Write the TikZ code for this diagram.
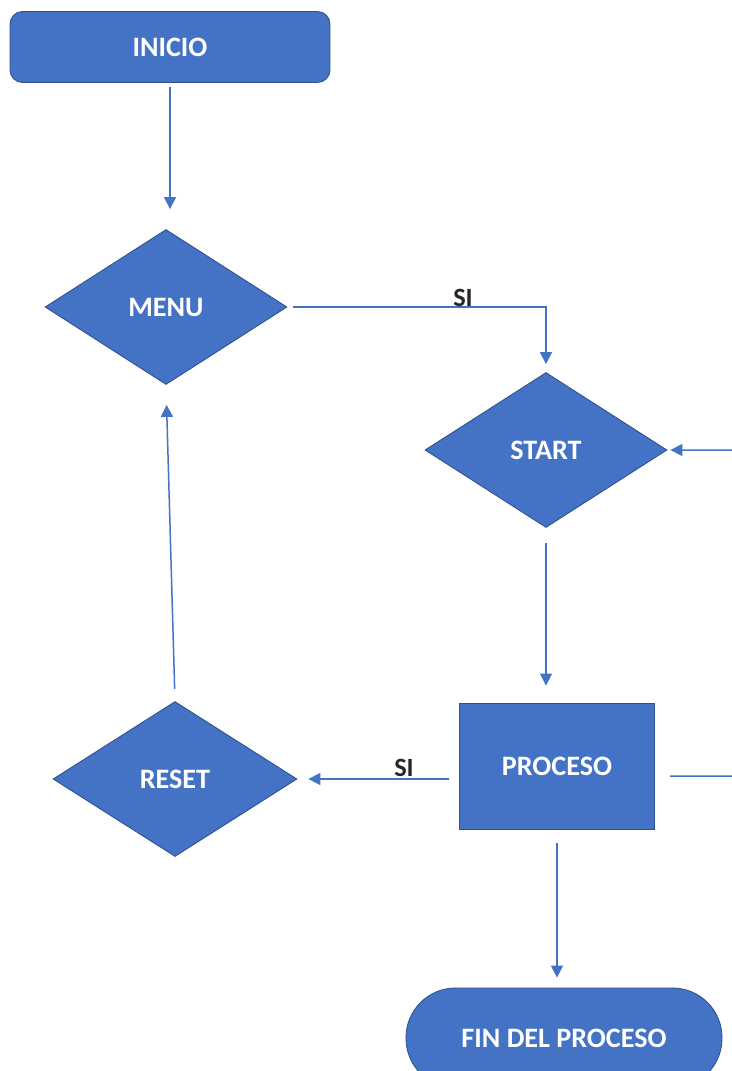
\documentclass[tikz,border=0pt]{standalone}
\usepackage{fontspec}
\setmainfont{Carlito}
\usetikzlibrary{shapes.geometric,arrows.meta}
\definecolor{boxblue}{HTML}{4472C4}
\definecolor{edgeblue}{HTML}{2F528F}
\begin{document}
\begin{tikzpicture}[x=0.02cm,y=-0.02cm,
  box/.style={draw=edgeblue,fill=boxblue,line width=0.5pt,text=white,font=\fontsize{16}{19}\selectfont\bfseries},
  decision/.style={box,diamond,inner sep=0pt,minimum width=4.84cm,minimum height=3.1cm},
  flow/.style={draw=boxblue,line width=0.85pt,-{Triangle[length=0.24cm,width=0.24cm]}},
  silabel/.style={font=\fontsize{15}{18}\selectfont\bfseries,text=black!85,inner sep=1pt}]
\clip (0,0) rectangle (732,1071);
\fill[white] (0,0) rectangle (732,1071);
  \node[box,rounded corners=0.25cm,minimum width=6.4cm,minimum height=1.42cm] (inicio) at (170,47) {INICIO};
  \node[decision] (menu) at (166,307) {MENU};
  \node[decision] (start) at (546,450) {START};
  \node[box,minimum width=3.9cm,minimum height=2.52cm] (proc) at (557,766) {PROCESO};
  \node[decision,minimum width=4.88cm] (reset) at (175,779) {RESET};
  \node[box,rounded corners=0.99cm,minimum width=6.32cm,minimum height=2cm] (fin) at (564,1038) {FIN DEL PROCESO};
  \draw[flow,shorten <=0.08cm,shorten >=0.4cm] (inicio.south) -- (inicio.south |- menu.north);
  \draw[flow,shorten <=0.12cm,shorten >=0.16cm] (menu.east) -| (start.north);
  \node[silabel] (si1) at (463,298) {SI};
  \draw[flow,shorten <=0.3cm,shorten >=0.34cm] (start.south) -- (start.south |- proc.north);
  \draw[flow,shorten <=0.2cm,shorten >=0.22cm] (proc.west |- reset.east) -- (reset.east);
  \node[silabel] (si2) at (404,768) {SI};
  \draw[flow,shorten <=0.24cm,shorten >=0.4cm] (reset.north) -- (menu.south);
  \draw[flow,shorten <=0.28cm,shorten >=0.2cm] (proc.south) -- (proc.south |- fin.north);
  \coordinate (loopR) at (800,776);
  \draw[flow,shorten <=0.3cm,shorten >=0.06cm] ([yshift=-0.2cm]proc.east) -- (loopR) |- (start.east);
\end{tikzpicture}
\end{document}
